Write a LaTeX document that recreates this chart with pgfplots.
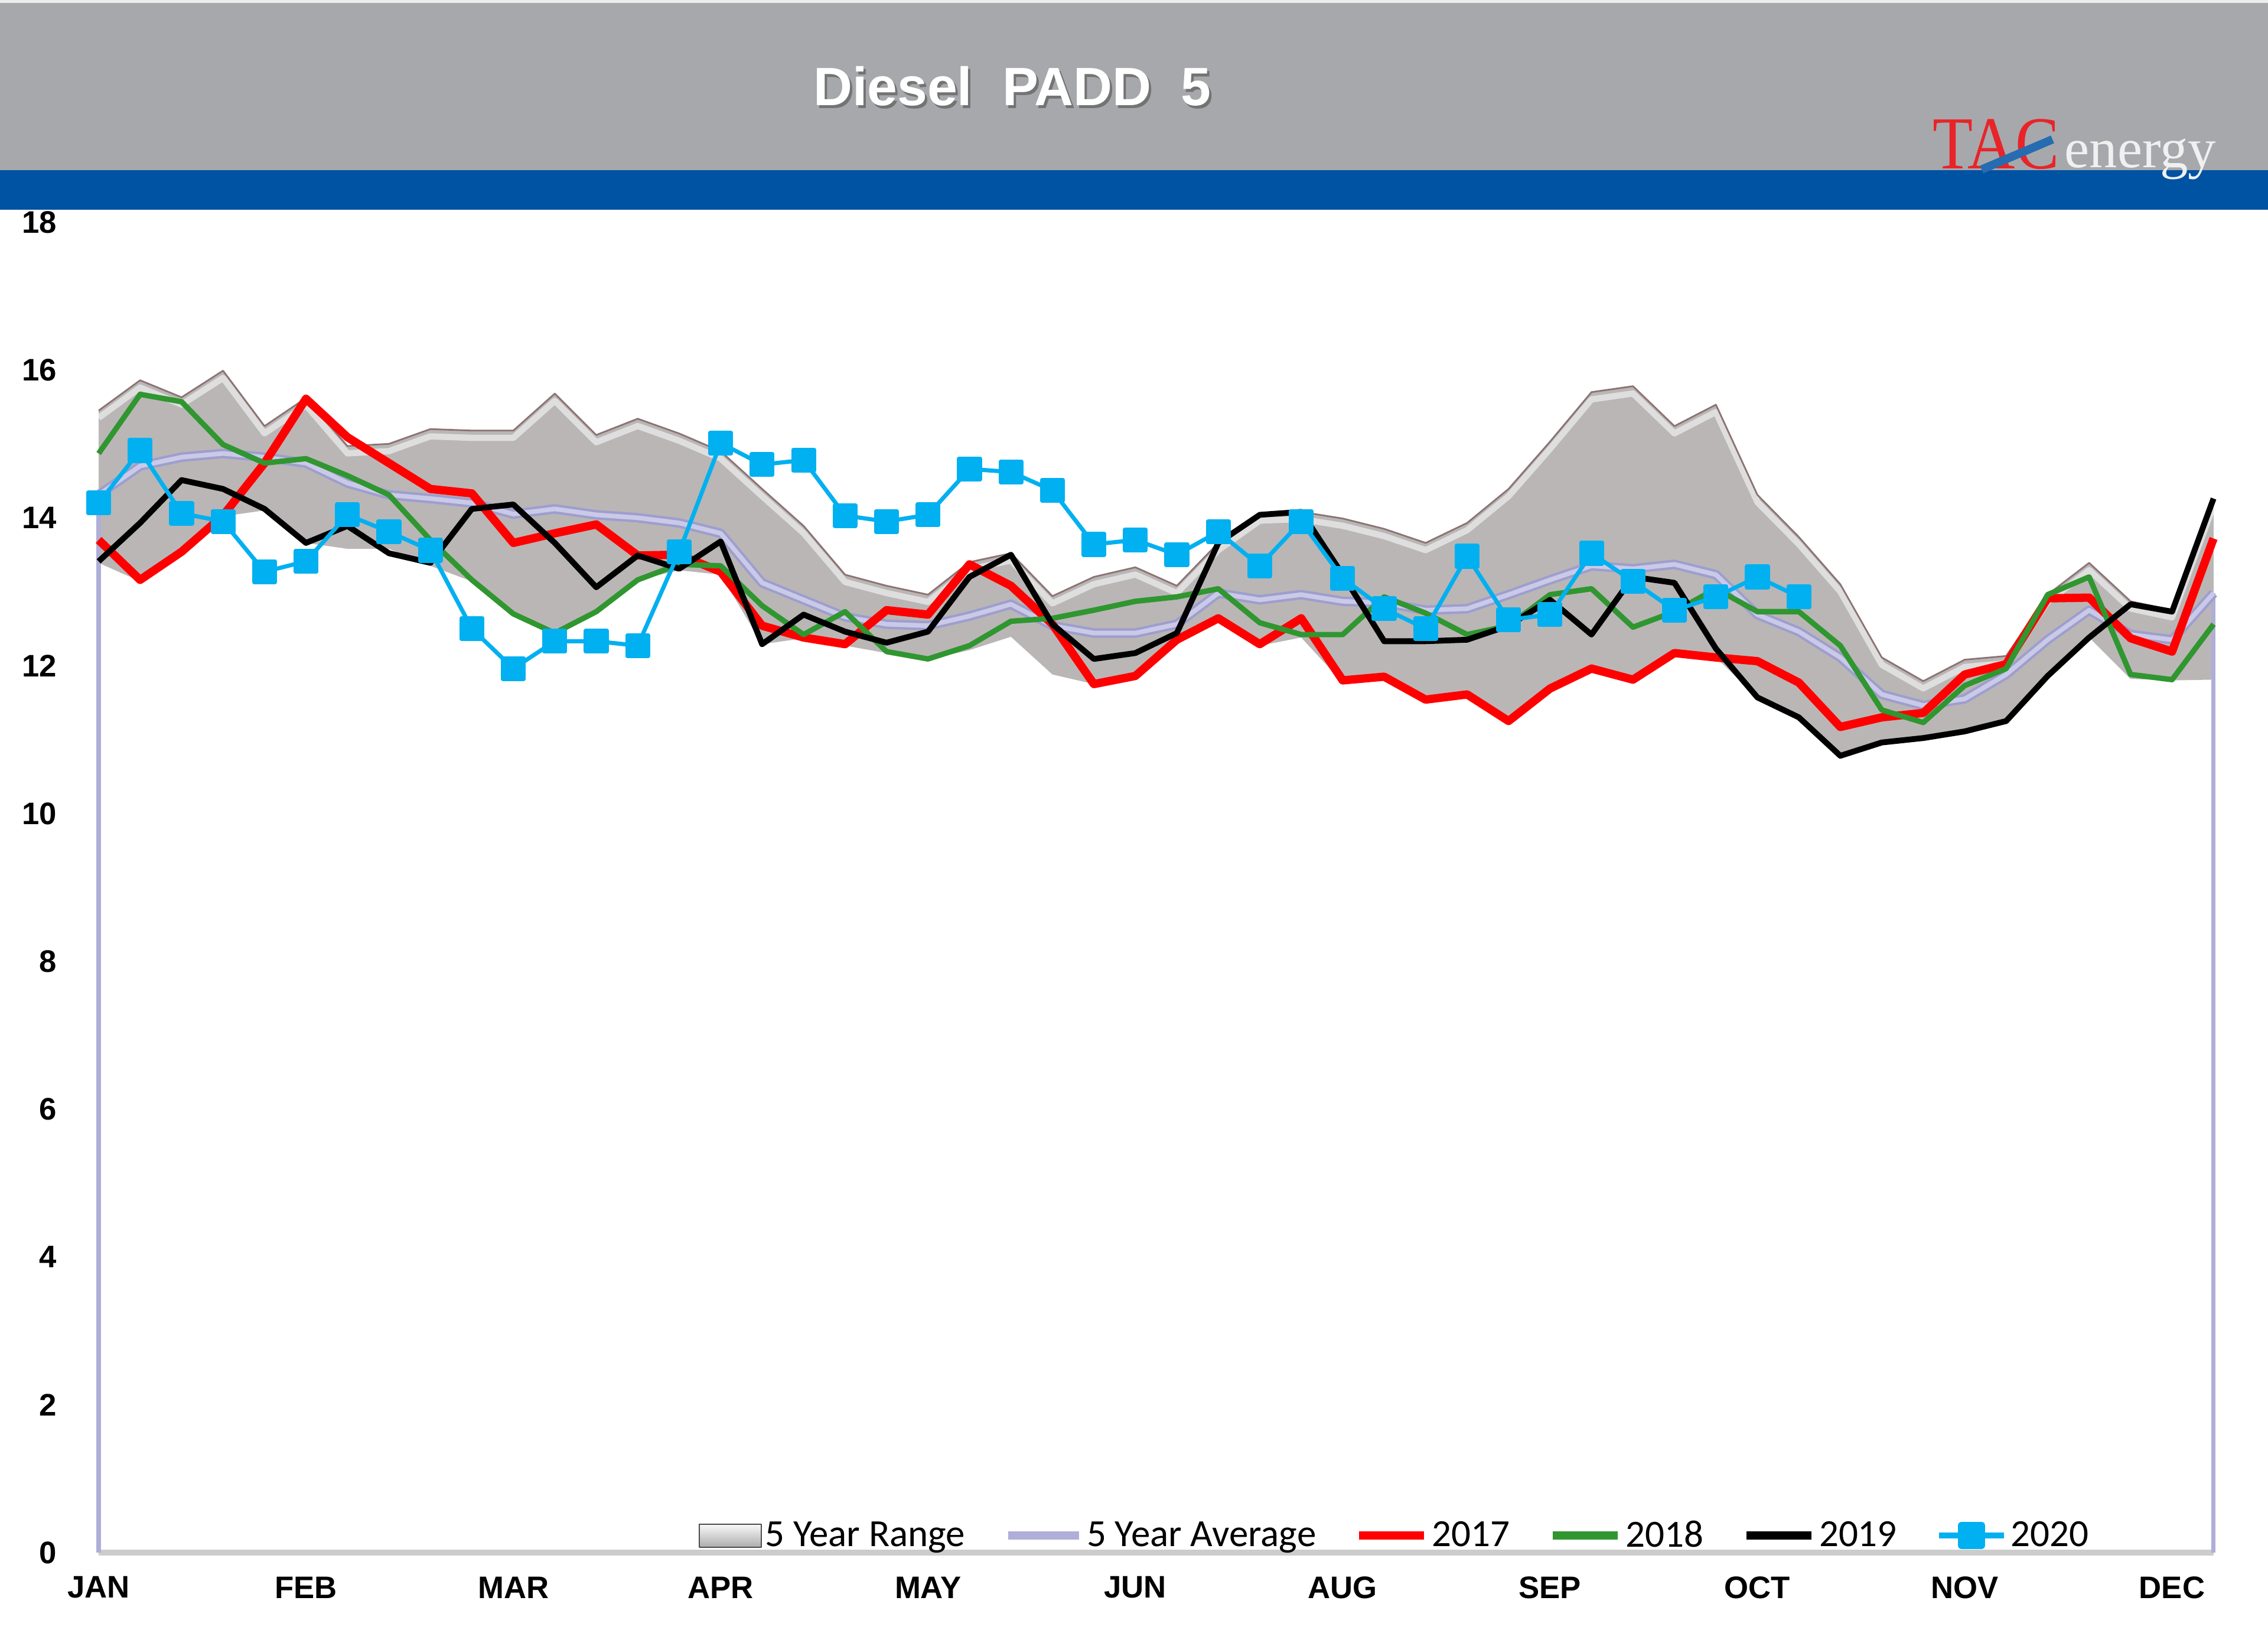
\documentclass[border=0pt]{standalone}
\usepackage{pgfplots}
\pgfplotsset{compat=1.18}
\usepackage{pgfplotstable}
\usepackage{graphicx}
\usepgfplotslibrary{fillbetween}
\usepackage{fontspec}
\setmainfont{Liberation Sans}
\newfontfamily\calibri{Carlito}
\newfontfamily\serifl{Liberation Serif}

\definecolor{bandgray}{RGB}{167,168,172}
\definecolor{bandblue}{RGB}{0,82,163}
\definecolor{rangegray}{RGB}{186,182,182}
\definecolor{rangeedge}{RGB}{140,115,115}
\definecolor{avgcol}{RGB}{174,174,216}
\definecolor{avgdark}{RGB}{158,158,206}
\definecolor{avglight}{RGB}{202,202,232}
\definecolor{c17}{RGB}{255,0,0}
\definecolor{c18}{RGB}{48,150,48}
\definecolor{c20}{RGB}{0,176,240}
\definecolor{logored}{RGB}{232,36,40}

\pgfplotstableread{
w top bot avg y17 y18 y19 y20
0 15.45 13.39 14.31 13.70 14.87 13.41 14.20
1 15.86 13.14 14.70 13.16 15.67 13.93 14.91
2 15.63 13.50 14.82 13.54 15.57 14.51 14.06
3 15.99 14.02 14.87 14.03 14.99 14.39 13.95
4 15.24 14.10 14.82 14.74 14.74 14.12 13.27
5 15.62 13.66 14.74 15.61 14.80 13.66 13.41
6 14.97 13.58 14.47 15.09 14.57 13.89 14.04
7 15.00 13.58 14.31 14.74 14.31 13.52 13.81
8 15.20 13.35 14.26 14.39 13.70 13.39 13.56
9 15.18 13.14 14.20 14.33 13.16 14.12 12.50
10 15.18 12.68 14.05 13.66 12.70 14.18 11.96
11 15.68 12.44 14.12 13.79 12.44 13.66 12.33
12 15.12 12.72 14.04 13.91 12.73 13.06 12.33
13 15.34 13.16 14.00 13.49 13.16 13.49 12.27
14 15.14 13.29 13.93 13.50 13.37 13.31 13.54
15 14.90 13.23 13.79 13.27 13.35 13.68 15.01
16 14.39 12.29 13.12 12.54 12.81 12.29 14.72
17 13.89 12.37 12.89 12.38 12.42 12.69 14.78
18 13.23 12.27 12.66 12.29 12.73 12.46 14.03
19 13.08 12.17 12.56 12.75 12.19 12.31 13.95
20 12.96 12.08 12.54 12.69 12.09 12.46 14.04
21 13.40 12.21 12.67 13.37 12.27 13.20 14.66
22 13.52 12.39 12.83 13.08 12.60 13.50 14.62
23 12.94 11.88 12.54 12.56 12.64 12.56 14.37
24 13.20 11.75 12.44 11.75 12.75 12.09 13.64
25 13.33 11.84 12.44 11.86 12.87 12.17 13.70
26 13.08 12.33 12.56 12.35 12.93 12.44 13.50
27 13.66 12.62 12.98 12.64 13.04 13.66 13.81
28 14.06 12.27 12.89 12.29 12.58 14.04 13.35
29 14.08 12.38 12.96 12.64 12.42 14.08 13.95
30 13.99 11.77 12.87 11.80 12.42 13.23 13.18
31 13.85 11.82 12.85 11.85 12.93 12.33 12.77
32 13.66 11.54 12.75 11.54 12.71 12.33 12.50
33 13.93 11.61 12.77 11.61 12.42 12.35 13.48
34 14.39 11.25 12.96 11.25 12.54 12.54 12.62
35 15.03 11.69 13.16 11.69 12.96 12.89 12.69
36 15.70 11.96 13.35 11.96 13.04 12.42 13.52
37 15.78 11.81 13.31 11.81 12.52 13.20 13.14
38 15.24 12.17 13.37 12.17 12.73 13.12 12.75
39 15.53 12.11 13.23 12.11 13.04 12.23 12.93
40 14.31 11.57 12.69 12.06 12.73 11.57 13.20
41 13.74 11.30 12.46 11.77 12.73 11.30 12.93
42 13.10 10.78 12.11 11.17 12.27 10.78 nan
43 12.11 10.96 11.61 11.30 11.40 10.96 nan
44 11.79 11.02 11.46 11.36 11.23 11.02 nan
45 12.08 11.11 11.55 11.88 11.73 11.11 nan
46 12.13 11.25 11.88 12.02 11.96 11.25 nan
47 12.96 11.86 12.35 12.91 12.96 11.86 nan
48 13.39 12.38 12.75 12.92 13.20 12.38 nan
49 12.87 11.82 12.42 12.37 11.88 12.83 nan
50 12.75 11.80 12.35 12.19 11.81 12.73 nan
51 14.26 11.81 12.98 13.72 12.56 14.26 nan
}\data

\begin{document}
\begin{tikzpicture}
\fill[white] (0,0) rectangle (38.4,27.81);
\begin{axis}[
  at={(1.67cm,1.53cm)}, anchor=south west,
  width=35.81cm, height=22.52cm, scale only axis,
  xmin=0, xmax=51, ymin=0, ymax=18,
  axis line style={draw=none}, tick style={draw=none}, major tick length=0pt,
  xtick={0,5,...,50},
  xticklabels={JAN,FEB,MAR,APR,MAY,JUN,AUG,SEP,OCT,NOV,DEC},
  ytick={0,2,...,18},
  yticklabels={0,2,4,6,8,10,12,14,16,18},
  tick label style={font=\bfseries\fontsize{15}{17}\selectfont},
  xticklabel style={anchor=center, yshift=-0.59cm},
  yticklabel style={anchor=east, inner sep=0pt, xshift=-0.70cm},
  clip=false,
  every axis plot/.append style={line join=round},
  legend columns=6,
  legend style={at={(axis description cs:0.6132,0.0129)}, anchor=center,
    draw=none, fill=none, inner sep=0pt,
    font=\calibri\fontsize{18.5}{20}\selectfont,
    nodes={inner sep=0.06cm},
    /tikz/every even column/.append style={column sep=0.6cm}},
  legend cell align=left,
]
% 5 year range
\addplot[name path=top, draw=none, forget plot] table[x=w,y=top]{\data};
\addplot[name path=bot, draw=none, forget plot] table[x=w,y=bot]{\data};
\addplot[rangegray, forget plot] fill between[of=top and bot, on layer=main];
\addplot[white, opacity=0.55, line width=3pt, yshift=-3.5pt, forget plot] table[x=w,y=top]{\data};
\addplot[rangeedge, line width=0.8pt, forget plot] table[x=w,y=top]{\data};
% baseline and end drops
\addplot[gray!40, line width=3pt, forget plot] coordinates {(0,0) (51,0)};
\addplot[avgcol, line width=2pt, forget plot] coordinates {(0,0) (0,14.31)};
\addplot[avgcol, line width=2pt, forget plot] coordinates {(51,0) (51,12.98)};
% 5 year average
\addplot[avgdark, line width=4.6pt, forget plot] table[x=w,y=avg]{\data};
\addplot[avglight, line width=2.2pt, forget plot] table[x=w,y=avg]{\data};
% years
\addplot[c17, line width=4pt, forget plot] table[x=w,y=y17]{\data};
\addplot[c18, line width=2.6pt, forget plot] table[x=w,y=y18]{\data};
\addplot[black, line width=2.8pt, forget plot] table[x=w,y=y19]{\data};
\addplot[c20, line width=2pt, mark=square*, mark size=5pt, forget plot] table[x=w,y=y20]{\data};

% legend
\addlegendimage{legend image code/.code={\draw[draw=gray!60!black, top color=gray!5, bottom color=gray!65] (0cm,-0.2cm) rectangle (1.05cm,0.19cm);}}
\addlegendentry{5 Year Range}
\addlegendimage{avgcol, line width=4pt, legend image code/.code={\draw (0cm,0cm) -- (1.2cm,0cm);}}
\addlegendentry{5 Year Average}
\addlegendimage{c17, line width=4pt, legend image code/.code={\draw (0cm,0cm) -- (1.1cm,0cm);}}
\addlegendentry{2017}
\addlegendimage{c18, line width=4pt, legend image code/.code={\draw (0cm,0cm) -- (1.1cm,0cm);}}
\addlegendentry{2018}
\addlegendimage{black, line width=4pt, legend image code/.code={\draw (0cm,0cm) -- (1.1cm,0cm);}}
\addlegendentry{2019}
\addlegendimage{c20, line width=3pt, mark=square*, mark size=5pt, legend image code/.code={\draw[mark repeat=2,mark phase=2] plot coordinates {(0cm,0cm) (0.55cm,0cm) (1.1cm,0cm)};}}
\addlegendentry{2020}
\end{axis}
% header bands
\fill[bandgray] (0,24.93) rectangle (38.4,27.81);
\fill[gray!15] (0,27.76) rectangle (38.4,27.81);
\fill[bandblue] (0,24.26) rectangle (38.4,24.93);
% title
\node[text=black!55, font=\bfseries\fontsize{26}{30}\selectfont] at (17.18,26.30) {Diesel\ \ PADD\ \ 5};
\node[text=white, font=\bfseries\fontsize{26}{30}\selectfont] at (17.14,26.35) {Diesel\ \ PADD\ \ 5};
% logo
\node[anchor=base west, inner sep=0pt, text=logored] at (32.72,24.95) {\serifl\fontsize{36}{36}\selectfont\scalebox{0.88}[1]{TAC}};
\node[anchor=base west, inner sep=0pt, text=white!88!gray] at (34.95,24.97) {\serifl\fontsize{27}{27}\selectfont energy};
\draw[bandblue!85!white, line width=4pt] (33.55,24.94) -- (34.75,25.45);
\pgfresetboundingbox
\path[use as bounding box] (0,0) rectangle (38.4,27.81);
\end{tikzpicture}
\end{document}
